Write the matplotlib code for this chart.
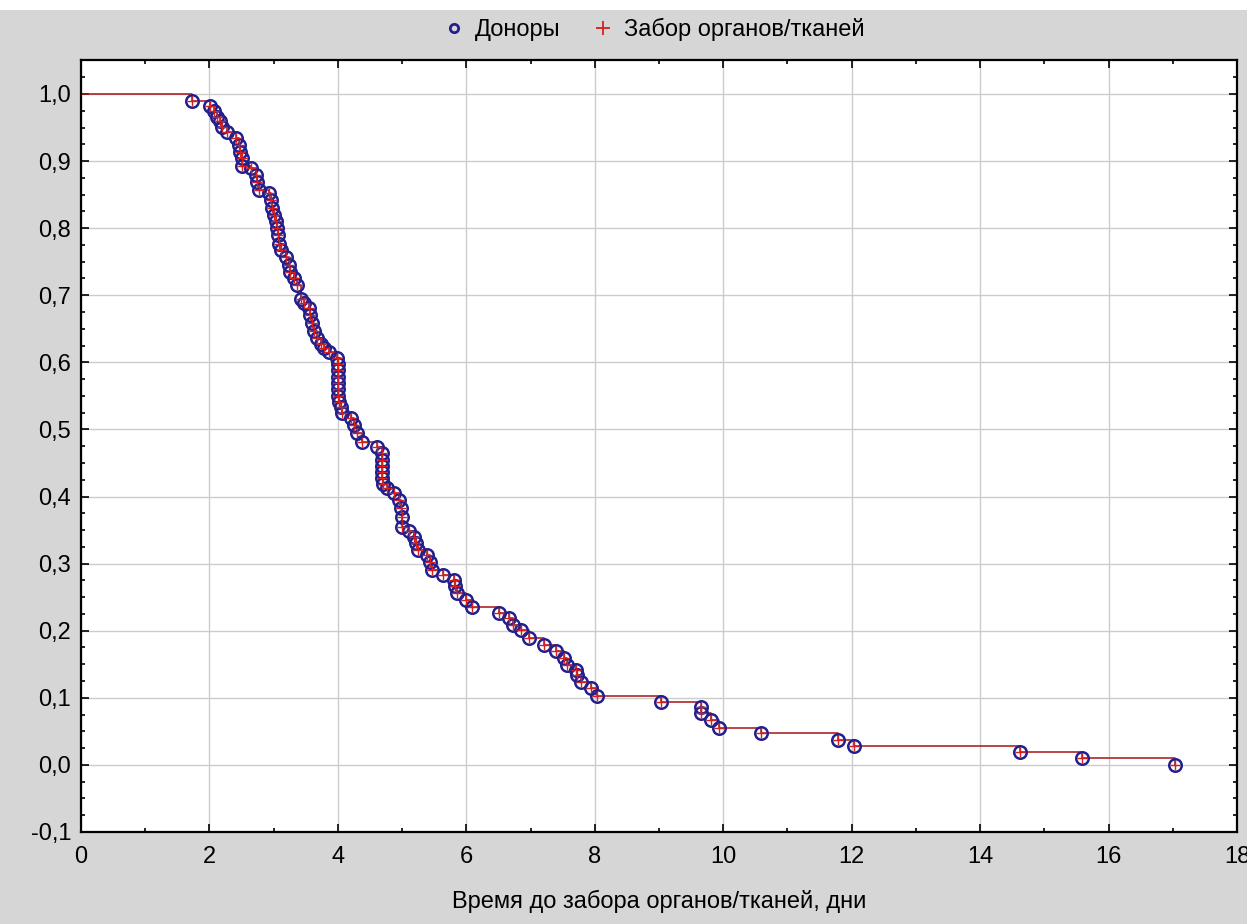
import numpy as np
import matplotlib.pyplot as plt
from matplotlib.ticker import MultipleLocator, FuncFormatter
from matplotlib.patches import Rectangle
from matplotlib.lines import Line2D

plt.rcParams['font.family'] = ['Liberation Sans', 'DejaVu Sans']

# время события (дни) и оценка доли "доноров" без забора
times = [1.72, 2.01, 2.07, 2.12, 2.16, 2.20, 2.28, 2.41, 2.46, 2.48, 2.50, 2.51,
         2.64, 2.72, 2.74, 2.77, 2.93, 2.95, 2.98, 3.00, 3.03, 3.05, 3.06, 3.08,
         3.11, 3.19, 3.24, 3.26, 3.31, 3.37, 3.42, 3.47, 3.55, 3.57, 3.60, 3.63,
         3.68, 3.73, 3.78, 3.86, 3.99, 4.00, 4.00, 4.00, 4.00, 4.00, 4.00, 4.01,
         4.04, 4.07, 4.20, 4.25, 4.30, 4.38, 4.61, 4.69, 4.69, 4.69, 4.69, 4.69,
         4.70, 4.77, 4.87, 4.95, 4.98, 5.00, 5.00, 5.10, 5.18, 5.21, 5.24, 5.39,
         5.44, 5.47, 5.63, 5.81, 5.83, 5.86, 5.99, 6.09, 6.51, 6.66, 6.72, 6.85,
         6.98, 7.21, 7.39, 7.52, 7.57, 7.70, 7.73, 7.78, 7.94, 8.04, 9.03, 9.65,
         9.66, 9.81, 9.93, 10.58, 11.78, 12.03, 14.62, 15.58, 17.03]
surv = [0.990, 0.982, 0.974, 0.966, 0.959, 0.951, 0.944, 0.934, 0.924, 0.914, 0.904, 0.893,
        0.889, 0.879, 0.869, 0.857, 0.852, 0.842, 0.830, 0.820, 0.810, 0.800, 0.790, 0.777,
        0.767, 0.757, 0.745, 0.735, 0.725, 0.715, 0.695, 0.688, 0.681, 0.671, 0.658, 0.646,
        0.636, 0.628, 0.621, 0.616, 0.606, 0.597, 0.588, 0.578, 0.569, 0.560, 0.550, 0.541,
        0.534, 0.524, 0.517, 0.507, 0.494, 0.482, 0.474, 0.465, 0.455, 0.446, 0.437, 0.428,
        0.418, 0.412, 0.405, 0.395, 0.383, 0.370, 0.355, 0.348, 0.340, 0.330, 0.320, 0.313,
        0.303, 0.291, 0.283, 0.276, 0.266, 0.256, 0.246, 0.236, 0.226, 0.219, 0.209, 0.201,
        0.189, 0.179, 0.169, 0.159, 0.149, 0.142, 0.134, 0.124, 0.114, 0.103, 0.094, 0.087,
        0.077, 0.067, 0.055, 0.047, 0.037, 0.028, 0.019, 0.010, 0.000]

xticks = np.arange(0, 19, 2)
yticks = np.round(np.arange(-0.1, 1.01, 0.1), 1)

bg = '#d6d6d6'
fig = plt.figure(figsize=(12.47, 9.24), dpi=100, facecolor=bg)
fig.patches.append(Rectangle((0, 1 - 10 / 924), 1, 10 / 924, transform=fig.transFigure,
                             facecolor='white', edgecolor='none', zorder=0))
ax = fig.add_axes([0.065, 0.0996, 0.927, 0.835])
ax.set_facecolor('white')

# ступенчатая кривая
line_t = [0] + times
line_s = [1.0] + surv
ax.step(line_t, line_s, where='post', color='#a81414', lw=1.1, zorder=2)

ax.plot(times, surv, 'o', ms=9, mfc='none', mec='#22208e', mew=1.8, zorder=3)
ax.plot(times, surv, '+', ms=7, color='#d42020', mew=1.0, zorder=4)

ax.set_xlim(0, 18)
ax.set_ylim(-0.1, 1.05)
ax.set_xticks(xticks)
ax.set_yticks(yticks)
ax.xaxis.set_minor_locator(MultipleLocator(1))
ax.yaxis.set_minor_locator(MultipleLocator(0.025))
ax.yaxis.set_major_formatter(FuncFormatter(lambda v, p: f'{v:.1f}'.replace('.', ',')))
ax.tick_params(which='both', direction='in', top=True, right=True, labelsize=17,
               colors='black', width=1.2)
ax.tick_params(which='major', length=6)
ax.tick_params(which='minor', length=3)
ax.tick_params(axis='x', pad=10)
ax.tick_params(axis='y', pad=7)
ax.grid(True, which='major', color='#cccccc', lw=1)
ax.set_axisbelow(True)
for sp in ax.spines.values():
    sp.set_linewidth(1.6)
    sp.set_color('black')

ax.set_xlabel('Время до забора органов/тканей, дни', fontsize=17, labelpad=16)

handles = [Line2D([], [], ls='none', marker='o', ms=6, mfc='none', mec='#22208e', mew=2),
           Line2D([], [], ls='none', marker='+', ms=10, color='#d42020', mew=1.3)]
fig.legend(handles, ['Доноры', 'Забор органов/тканей'], loc='center',
           bbox_to_anchor=(0.524, 0.968), ncol=2, frameon=False, fontsize=17,
           handletextpad=0.4, columnspacing=1.3, handlelength=1.0)

fig.savefig('out.png', dpi=100, facecolor=bg)
